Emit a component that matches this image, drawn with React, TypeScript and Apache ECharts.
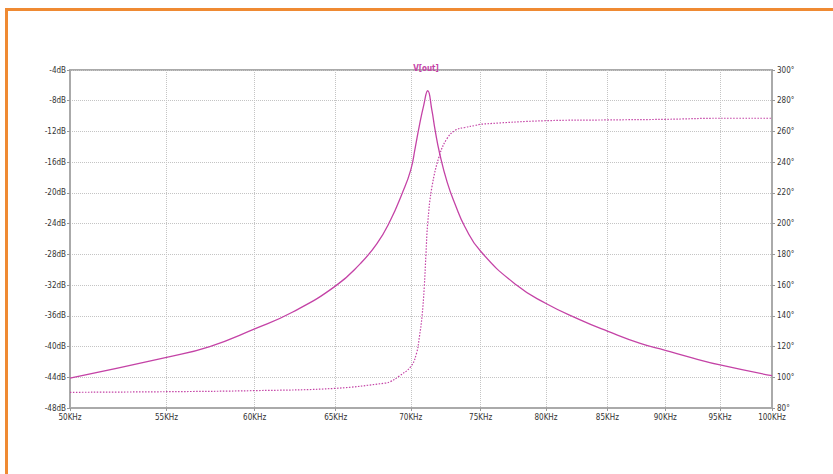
import React, { useEffect, useRef } from "react";
import * as echarts from "echarts";

// Frequency ticks (kHz)
const freqTicks = [50, 55, 60, 65, 70, 75, 80, 85, 90, 95, 100];

// Magnitude trace V(out) in dB
const magFreq = [50, 55, 57.4, 60, 62.3, 65, 66.6, 67.7, 68.6, 69.4, 70, 70.3, 70.6, 70.9, 71.18, 71.48, 71.7, 72.03, 72.56, 73.16, 73.84, 75, 77.7, 80, 82.7, 85, 87.8, 90, 92.5, 95, 100];
const magDb = [-44.1, -41.4, -40.0, -37.7, -35.5, -32.1, -29.2, -26.6, -23.6, -20.1, -17.0, -14.2, -11.2, -8.6, -6.7, -9.3, -11.8, -14.9, -18.6, -21.6, -24.4, -27.6, -32.0, -34.4, -36.5, -38.0, -39.6, -40.5, -41.5, -42.4, -43.8];

// Phase trace in degrees
const phaseFreq = [50, 55, 60, 65, 68.26, 68.6, 69.15, 70, 70.4, 70.6, 70.78, 70.94, 71.06, 71.18, 71.48, 72.03, 72.56, 73.16, 73.84, 74.6, 75, 80, 85, 90, 95, 100];
const phaseDeg = [90.2, 90.6, 91.3, 92.8, 96.2, 97.1, 100.4, 106.9, 115.6, 126.4, 139.4, 159.0, 180.7, 200.2, 224, 245, 255.5, 260.9, 262.6, 263.9, 264.7, 267.0, 267.5, 267.9, 268.6, 268.6];

const TRACE = "#c443a6";
const FONT = "'Liberation Sans Narrow', 'DejaVu Sans Condensed', sans-serif";
const LABEL = { color: "#333", fontSize: 8, fontWeight: "normal" as const, fontFamily: FONT };

export default function App() {
  const ref = useRef<HTMLDivElement>(null);
  useEffect(() => {
    if (!ref.current) return;
    const chart = echarts.init(ref.current, null, { renderer: "svg" });
    const gridLine = { show: true, lineStyle: { color: "#c4c4c4", type: "dotted" as const, width: 1 } };
    chart.setOption({
      animation: false,
      backgroundColor: "#fff",
      title: {
        text: "V[out]",
        left: 421,
        top: 59,
        textAlign: "center",
        textStyle: { color: TRACE, fontSize: 8, fontWeight: "bold", fontFamily: FONT },
      },
      graphic: [
        {
          type: "rect",
          shape: { x: 6.5, y: 9.5, width: 900, height: 600 },
          style: { fill: "none", stroke: "#ef8a33", lineWidth: 3 },
          silent: true,
        },
      ],
      grid: { left: 70, right: 61, top: 70, bottom: 66, show: true, borderColor: "#aaa", borderWidth: 2 },
      xAxis: {
        type: "log",
        logBase: 10,
        min: 50,
        max: 100,
        axisLine: { show: true, lineStyle: { color: "#aaa", width: 2 } },
        axisTick: { show: true, length: 3, lineStyle: { color: "#999" }, customValues: freqTicks },
        axisLabel: { ...LABEL, margin: 5, customValues: freqTicks, formatter: (v: number) => Math.round(v) + "KHz" },
        splitLine: gridLine,
        minorTick: { show: false },
      },
      yAxis: [
        {
          type: "value",
          min: -48,
          max: -4,
          interval: 4,
          position: "left",
          axisLine: { show: true, lineStyle: { color: "#aaa", width: 2 } },
          axisTick: { show: true, length: 3, lineStyle: { color: "#999" } },
          axisLabel: { ...LABEL, margin: 4, formatter: (v: number) => v + "dB" },
          splitLine: gridLine,
        },
        {
          type: "value",
          min: 80,
          max: 300,
          interval: 20,
          position: "right",
          axisLine: { show: true, lineStyle: { color: "#aaa", width: 2 } },
          axisTick: { show: true, length: 3, lineStyle: { color: "#999" } },
          axisLabel: { ...LABEL, margin: 5, formatter: (v: number) => v + "°" },
          splitLine: { show: false },
        },
      ],
      series: [
        {
          name: "mag",
          type: "line",
          yAxisIndex: 0,
          data: magFreq.map((f, i) => [f, magDb[i]]),
          showSymbol: false,
          smooth: 0.5,
          lineStyle: { color: TRACE, width: 1.3 },
          z: 3,
        },
        {
          name: "phase",
          type: "line",
          yAxisIndex: 1,
          data: phaseFreq.map((f, i) => [f, phaseDeg[i]]),
          showSymbol: false,
          smooth: 0.4,
          lineStyle: { color: TRACE, width: 1.2, type: [1.5, 1.5] },
          z: 3,
        },
      ],
    });
    return () => chart.dispose();
  }, []);
  return <div ref={ref} style={{ position: "fixed", left: 0, top: 0, width: 833, height: 474 }} />;
}
